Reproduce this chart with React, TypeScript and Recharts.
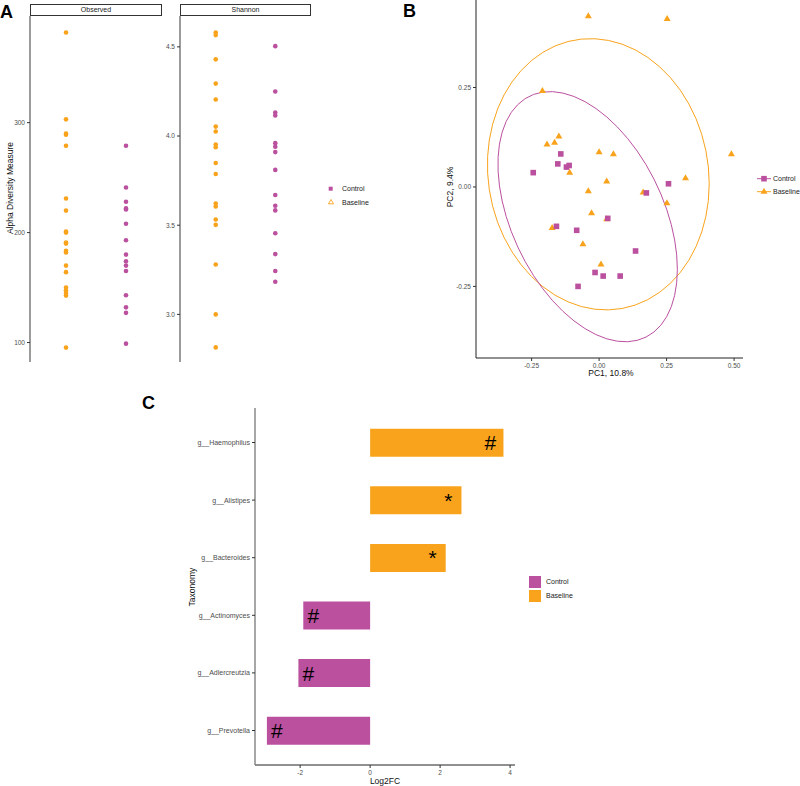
import React from "react";
import {
  ScatterChart, Scatter, BarChart, Bar, XAxis, YAxis, Cell, LabelList,
} from "recharts";

const PURPLE = "#BB509F";
const ORANGE = "#F9A31C";
const FONT = "'Liberation Sans', Arial, sans-serif";

// Panel A: alpha diversity (Baseline = 1, Control = 2 on the x scale)
const obsBaseline = [382, 303, 290, 289, 279, 231, 220, 201, 200, 191, 190, 183.5, 182, 170, 164, 150, 147.6, 145, 142.7, 95.4];
const obsControl = [279, 241, 228, 222, 221, 208, 193, 180, 174, 170, 165, 143, 132, 127, 99];
const shanBaseline = [4.58, 4.566, 4.43, 4.294, 4.205, 4.053, 4.025, 3.952, 3.937, 3.849, 3.787, 3.622, 3.605, 3.532, 3.502, 3.28, 3.0, 2.815];
const shanControl = [4.504, 4.25, 4.132, 4.115, 3.96, 3.94, 3.91, 3.81, 3.669, 3.609, 3.583, 3.455, 3.338, 3.243, 3.183];
const obsTicks = [100, 200, 300];
const shanTicks = [3.0, 3.5, 4.0, 4.5];

// Panel B: PCoA coordinates [PC1, PC2]
const pcBaseline: [number, number][] = [
  [-0.04, 0.43], [0.252, 0.423], [-0.21, 0.242], [-0.149, 0.128], [-0.193, 0.108],
  [-0.165, 0.112], [0.0, 0.088], [0.053, 0.083], [-0.109, 0.037], [0.49, 0.083],
  [0.32, 0.023], [0.028, 0.015], [-0.04, -0.01], [0.163, -0.013], [0.251, -0.04],
  [-0.028, -0.065], [0.028, -0.08], [-0.174, -0.102], [-0.06, -0.143], [0.007, -0.194],
];
const pcControl: [number, number][] = [
  [-0.244, 0.036], [-0.142, 0.083], [-0.153, 0.058], [-0.121, 0.05], [-0.111, 0.054],
  [0.257, 0.008], [0.175, -0.015], [0.032, -0.079], [-0.158, -0.099], [-0.083, -0.109],
  [0.135, -0.161], [-0.015, -0.215], [0.015, -0.224], [0.078, -0.224], [-0.078, -0.25],
];
const pc1Ticks = [-0.25, 0, 0.25, 0.5];
const pc2Ticks = [-0.25, 0, 0.25];
// 95% F quantiles qf(0.95, 2, n - 1) for the t-ellipses
const fBaseline = 3.522;
const fControl = 3.739;

// Panel C: differential abundance
const taxa = ["g__Haemophilus", "g__Alistipes", "g__Bacteroides", "g__Actinomyces", "g__Adlercreutzia", "g__Prevotella"];
const log2fc = [3.81, 2.61, 2.16, -1.91, -2.05, -2.95];
const signif = ["#", "*", "*", "#", "#", "#"];
const fcTicks = [-2, 0, 2, 4];

const toXY = (vals: number[], pos: number) => vals.map(v => ({ x: pos, y: v }));

// robust multivariate t estimate (MASS::cov.trob, nu = 5), 2-d only
function covTrob(pts: [number, number][], nu = 5) {
  const n = pts.length;
  let w = pts.map(() => 1);
  let loc = [pts.reduce((s, p) => s + p[0], 0) / n, pts.reduce((s, p) => s + p[1], 0) / n];
  let X = pts.map(p => [p[0] - loc[0], p[1] - loc[1]]);
  for (let it = 0; it < 25; it++) {
    const w0 = w;
    X = pts.map(p => [p[0] - loc[0], p[1] - loc[1]]);
    const sw = w.reduce((s, v) => s + v, 0);
    let a = 0, b = 0, c = 0;
    X.forEach(([x, y], i) => { a += w[i] * x * x; b += w[i] * x * y; c += w[i] * y * y; });
    a /= sw; b /= sw; c /= sw;
    const det = a * c - b * b;
    const Q = X.map(([x, y]) => (c * x * x - 2 * b * x * y + a * y * y) / det);
    w = Q.map(q => (nu + 2) / (nu + q));
    const sw2 = w.reduce((s, v) => s + v, 0);
    loc = [pts.reduce((s, p, i) => s + w[i] * p[0], 0) / sw2, pts.reduce((s, p, i) => s + w[i] * p[1], 0) / sw2];
    if (w.every((v, i) => Math.abs(v - w0[i]) < 0.01)) break;
  }
  let a = 0, b = 0, c = 0;
  X.forEach(([x, y], i) => { a += w[i] * x * x; b += w[i] * x * y; c += w[i] * y * y; });
  return { loc, a: a / n, b: b / n, c: c / n };
}

// ggplot stat_ellipse (type "t"): centre + radius * circle %*% chol(shape)
function ellipse(pts: [number, number][], fq: number) {
  const { loc, a, b, c } = covTrob(pts);
  const r11 = Math.sqrt(a), r12 = b / r11, r22 = Math.sqrt(c - r12 * r12);
  const rad = Math.sqrt(2 * fq);
  const out = [];
  for (let i = 0; i <= 51; i++) {
    const t = (2 * Math.PI * i) / 51;
    const u = Math.cos(t), v = Math.sin(t);
    out.push({ x: loc[0] + rad * u * r11, y: loc[1] + rad * (u * r12 + v * r22) });
  }
  return out;
}

const tickStyle = { fontSize: 6.5, fill: "#4D4D4D", stroke: "none", fontFamily: FONT };

const Dot = (color: string) => (p: any) => <circle cx={p.cx} cy={p.cy} r={2.3} fill={color} />;
const Square = (p: any) => <rect x={p.cx - 2.8} y={p.cy - 2.8} width={5.6} height={5.6} fill={PURPLE} />;
const Tri = (p: any) => (
  <polygon points={`${p.cx},${p.cy - 3.6} ${p.cx - 3.5},${p.cy + 2.4} ${p.cx + 3.5},${p.cy + 2.4}`} fill={ORANGE} />
);
const NoShape = () => null;

function Abs({ x, y, children, style }: any) {
  return <div style={{ position: "absolute", left: x, top: y, ...style }}>{children}</div>;
}

function VText({ cx, cy, size, children }: any) {
  return (
    <div style={{
      position: "absolute", left: cx, top: cy, transform: "translate(-50%, -50%) rotate(-90deg)",
      fontSize: size, whiteSpace: "nowrap", color: "#111", lineHeight: 1,
    }}>{children}</div>
  );
}

function HText({ cx, cy, size, children }: any) {
  return (
    <div style={{
      position: "absolute", left: cx, top: cy, transform: "translate(-50%, -50%)",
      fontSize: size, whiteSpace: "nowrap", color: "#111", lineHeight: 1,
    }}>{children}</div>
  );
}

function Strip({ x, w, label }: any) {
  return (
    <div style={{
      position: "absolute", left: x, top: 4, width: w, height: 12, boxSizing: "border-box",
      border: "1px solid #333", fontSize: 7, textAlign: "center", lineHeight: "10px", color: "#1a1a1a",
    }}>{label}</div>
  );
}

function AlphaPanel({ left, width, domain, ticks, fmt, base, ctrl }: any) {
  return (
    <Abs x={left} y={16}>
      <ScatterChart width={width} height={346} margin={{ top: 0, right: 0, bottom: 0, left: 0 }}>
        <XAxis type="number" dataKey="x" domain={[0.4, 2.6]} height={0} tick={false} tickLine={false}
          axisLine={{ stroke: "#666", strokeWidth: 1.3 }} />
        <YAxis type="number" dataKey="y" domain={domain} ticks={ticks} width={30} tickSize={3}
          tickFormatter={fmt} tick={tickStyle} tickLine={{ stroke: "#333" }}
          axisLine={{ stroke: "#666", strokeWidth: 1.3 }} allowDataOverflow />
        <Scatter data={base} shape={Dot(ORANGE)} isAnimationActive={false} />
        <Scatter data={ctrl} shape={Dot(PURPLE)} isAnimationActive={false} />
      </ScatterChart>
    </Abs>
  );
}

const SigLabel = (p: any) => {
  const { x, y, width, height, index } = p;
  const left = Math.min(x, x + width), right = Math.max(x, x + width);
  const pos = log2fc[index] >= 0 ? right - 13 : left + 10;
  return (
    <text x={pos} y={y + height / 2} textAnchor="middle" dominantBaseline="central"
      fontSize={21} fontFamily={FONT} fill="#000">{signif[index]}</text>
  );
};

export default function App() {
  const barData = taxa.map((t, i) => ({ taxon: t, fc: log2fc[i] }));
  const pcB = pcBaseline.map(([x, y]) => ({ x, y }));
  const pcC = pcControl.map(([x, y]) => ({ x, y }));

  return (
    <div style={{ position: "absolute", left: 0, top: 0, width: 800, height: 786, background: "#fff", fontFamily: FONT, overflow: "hidden" }}>
      {/* Panel A */}
      <Abs x={0} y={3} style={{ fontSize: 18, fontWeight: 700, lineHeight: "18px" }}>A</Abs>
      <Strip x={30} w={132} label="Observed" />
      <Strip x={180} w={131} label="Shannon" />
      <AlphaPanel left={0} width={162} domain={[82.3, 397]} ticks={obsTicks} fmt={(v: number) => `${v}`}
        base={toXY(obsBaseline, 1)} ctrl={toXY(obsControl, 2)} />
      <AlphaPanel left={150} width={161} domain={[2.733, 4.673]} ticks={shanTicks} fmt={(v: number) => v.toFixed(1)}
        base={toXY(shanBaseline, 1)} ctrl={toXY(shanControl, 2)} />
      <VText cx={10} cy={188} size={8.5}>Alpha Diversity Measure</VText>
      <svg style={{ position: "absolute", left: 326, top: 183 }} width={10} height={24}>
        <rect x={2.7} y={3.7} width={4} height={4} fill={PURPLE} />
        <polygon points="5,16.5 2.4,20.8 7.6,20.8" fill="none" stroke={ORANGE} strokeWidth={0.9} />
      </svg>
      <Abs x={342} y={184} style={{ fontSize: 7, lineHeight: "9px", color: "#1a1a1a" }}>Control</Abs>
      <Abs x={342} y={198} style={{ fontSize: 7, lineHeight: "9px", color: "#1a1a1a" }}>Baseline</Abs>

      {/* Panel B */}
      <Abs x={403} y={2} style={{ fontSize: 18, fontWeight: 700, lineHeight: "18px" }}>B</Abs>
      <Abs x={440} y={0}>
        <ScatterChart width={303} height={380} margin={{ top: 0, right: 0, bottom: 0, left: 0 }}>
          <XAxis type="number" dataKey="x" domain={[-0.456, 0.533]} ticks={pc1Ticks} height={22} tickSize={3}
            tickFormatter={(v: number) => v.toFixed(2)} tick={tickStyle} tickLine={{ stroke: "#333" }}
            axisLine={{ stroke: "#222" }} allowDataOverflow />
          <YAxis type="number" dataKey="y" domain={[-0.43, 0.47]} ticks={pc2Ticks} width={36} tickSize={3}
            tickFormatter={(v: number) => v.toFixed(2)} tick={tickStyle} tickLine={{ stroke: "#333" }}
            axisLine={{ stroke: "#222" }} allowDataOverflow />
          <Scatter data={ellipse(pcBaseline, fBaseline)} line={{ stroke: ORANGE, strokeWidth: 1 }} lineType="joint"
            shape={NoShape} isAnimationActive={false} />
          <Scatter data={ellipse(pcControl, fControl)} line={{ stroke: PURPLE, strokeWidth: 1 }} lineType="joint"
            shape={NoShape} isAnimationActive={false} />
          <Scatter data={pcB} shape={Tri} isAnimationActive={false} />
          <Scatter data={pcC} shape={Square} isAnimationActive={false} />
        </ScatterChart>
      </Abs>
      <VText cx={450} cy={187} size={8.5}>PC2, 9.4%</VText>
      <HText cx={611} cy={373} size={8.5}>PC1, 10.8%</HText>
      <svg style={{ position: "absolute", left: 756, top: 172 }} width={16} height={26}>
        <line x1={1} x2={15} y1={6.7} y2={6.7} stroke={PURPLE} strokeWidth={1} />
        <rect x={5.2} y={3.9} width={5.6} height={5.6} fill={PURPLE} />
        <line x1={1} x2={15} y1={19.7} y2={19.7} stroke={ORANGE} strokeWidth={1} />
        <polygon points="8,15.8 4.5,21.8 11.5,21.8" fill={ORANGE} />
      </svg>
      <Abs x={773} y={174} style={{ fontSize: 7, lineHeight: "9px", color: "#1a1a1a", whiteSpace: "nowrap" }}>Control</Abs>
      <Abs x={773} y={187} style={{ fontSize: 7, lineHeight: "9px", color: "#1a1a1a", whiteSpace: "nowrap" }}>Baseline</Abs>

      {/* Panel C */}
      <Abs x={142} y={394} style={{ fontSize: 18, fontWeight: 700, lineHeight: "18px" }}>C</Abs>
      <Abs x={150} y={400}>
        <BarChart layout="vertical" width={365} height={385} data={barData} barSize={28}
          margin={{ top: 8, right: 0, bottom: 0, left: 0 }}>
          <XAxis type="number" domain={[-3.29, 4.14]} ticks={fcTicks} height={20} tickSize={3}
            tick={tickStyle} tickLine={{ stroke: "#333" }} axisLine={{ stroke: "#222", strokeWidth: 1.2 }} allowDataOverflow />
          <YAxis type="category" dataKey="taxon" width={105} tickSize={3} padding={{ top: 5.7, bottom: 5.7 }}
            tick={{ ...tickStyle, fontSize: 7 }} tickLine={{ stroke: "#333" }} axisLine={{ stroke: "#777", strokeWidth: 1.3 }} />
          <Bar dataKey="fc" isAnimationActive={false}>
            {barData.map((d, i) => <Cell key={i} fill={d.fc < 0 ? PURPLE : ORANGE} />)}
            <LabelList dataKey="fc" content={SigLabel} />
          </Bar>
        </BarChart>
      </Abs>
      <VText cx={192} cy={587} size={8.5}>Taxonomy</VText>
      <HText cx={385} cy={781} size={8.5}>Log2FC</HText>
      <div style={{ position: "absolute", left: 529, top: 576, width: 12, height: 12, background: PURPLE }} />
      <div style={{ position: "absolute", left: 529, top: 590, width: 12, height: 12, background: ORANGE }} />
      <Abs x={546} y={577} style={{ fontSize: 7, lineHeight: "9px", color: "#1a1a1a" }}>Control</Abs>
      <Abs x={546} y={591} style={{ fontSize: 7, lineHeight: "9px", color: "#1a1a1a" }}>Baseline</Abs>
    </div>
  );
}
